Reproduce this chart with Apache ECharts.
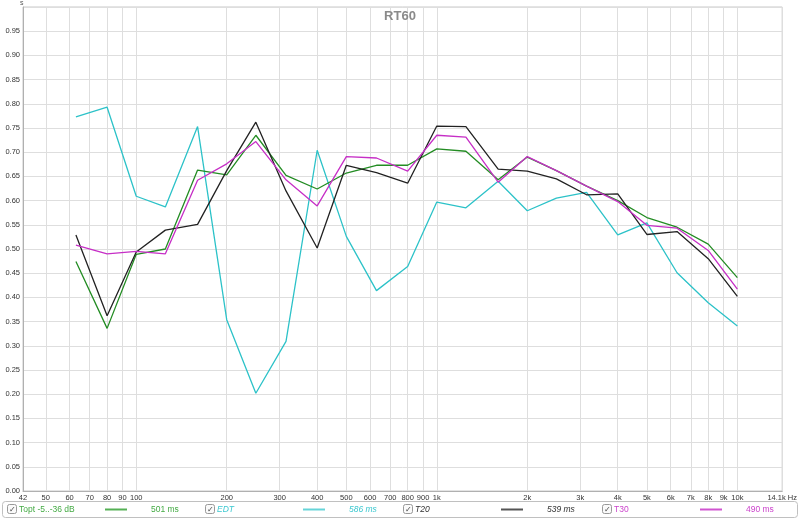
<!DOCTYPE html>
<html><head><meta charset="utf-8">
<script src="https://cdn.jsdelivr.net/npm/echarts@6/dist/echarts.min.js"></script>
<style>html,body{margin:0;padding:0;background:#fff}#c{width:800px;height:519px}</style>
</head><body><div id="c"></div>
<script>
const freqs = [63,80,100,125,160,200,250,315,400,500,630,800,1000,1250,1600,2000,2500,3150,4000,5000,6300,8000,10000];
const topt = [0.474,0.336,0.489,0.500,0.663,0.653,0.735,0.652,0.624,0.657,0.673,0.673,0.707,0.702,0.643,0.690,0.662,0.630,0.600,0.565,0.545,0.510,0.441];
const edt  = [0.773,0.793,0.609,0.587,0.753,0.354,0.202,0.309,0.704,0.526,0.414,0.464,0.597,0.585,0.640,0.579,0.605,0.617,0.529,0.554,0.451,0.389,0.341];
const t20  = [0.529,0.362,0.494,0.539,0.551,0.662,0.762,0.620,0.502,0.673,0.658,0.636,0.754,0.753,0.665,0.661,0.645,0.612,0.614,0.530,0.536,0.480,0.402];
const t30  = [0.508,0.490,0.495,0.490,0.642,0.676,0.722,0.643,0.589,0.691,0.688,0.661,0.735,0.731,0.638,0.691,0.662,0.630,0.598,0.549,0.543,0.497,0.417];
const xTicks = [42,50,60,70,80,90,100,200,300,400,500,600,700,800,900,1000,2000,3000,4000,5000,6000,7000,8000,9000,10000,14100];
const xTickLabels = ['42','50','60','70','80','90','100','200','300','400','500','600','700','800','900','1k','2k','3k','4k','5k','6k','7k','8k','9k','10k','14.1k Hz'];
const legendNames = ['Topt -5..-36 dB','EDT','T20','T30'];
const legendValues = ['501 ms','586 ms','539 ms','490 ms'];

const lineColors = ['#238c23','#2cc2c8','#222222','#c62ec6'];
const legendTextColors = ['#44aa44','#3cc8d0','#333333','#cc44cc'];
const legendLineColors = ['#55b055','#66d4d8','#555555','#d055d0'];
const italics = [false,true,true,false];
const seriesData = [topt, edt, t20, t30];

const chart = echarts.init(document.getElementById('c'), null, {renderer:'canvas'});
const FONT = 'Liberation Sans';

const graphic = [];
graphic.push({type:'rect', shape:{x:2.5,y:501.5,width:795,height:16,r:3}, style:{fill:'#fff',stroke:'#c0c0c0',lineWidth:1}, silent:true});
const itemX = [7,205,403,602];
for (let i=0;i<4;i++){
  const x0 = itemX[i];
  graphic.push({type:'rect', shape:{x:x0+0.5,y:504.5,width:9,height:9,r:2}, style:{fill:'#fafafa',stroke:'#999',lineWidth:1}});
  graphic.push({type:'text', x:x0+2, y:509.5, style:{text:'\u2713', fill:'#444', font:'8px DejaVu Sans', verticalAlign:'middle'}});
  graphic.push({type:'text', x:x0+12, y:509.5, style:{text:legendNames[i], fill:legendTextColors[i], font:(italics[i]?'italic ':'')+'8.5px '+FONT, verticalAlign:'middle'}});
  graphic.push({type:'line', shape:{x1:x0+98,y1:509.5,x2:x0+120,y2:509.5}, style:{stroke:legendLineColors[i],lineWidth:2}});
  graphic.push({type:'text', x:x0+144, y:509.5, style:{text:legendValues[i], fill:legendTextColors[i], font:(i===1||i===2?'italic ':'')+'8.5px '+FONT, verticalAlign:'middle'}});
}
graphic.push({type:'text', x:20, y:0, style:{text:'s', fill:'#555', font:'7px '+FONT}});

const option = {
  animation:false,
  backgroundColor:'#fff',
  title:{text:'RT60', left:'center', top:5, textStyle:{color:'#8a8a8a', fontSize:13, fontWeight:'bold', fontFamily:FONT}},
  grid:{left:23, right:12, top:7, bottom:28, show:true, borderColor:'#c8c8c8', borderWidth:1},
  xAxis:{type:'log', min:42, max:14100, logBase:10,
    axisLine:{show:true, lineStyle:{color:'#b0b0b0'}},
    axisTick:{show:false, customValues:xTicks},
    axisLabel:{customValues:xTicks, fontSize:7.5, color:'#333', margin:3, fontFamily:FONT,
      formatter:(v)=>{ let best=0; for(let i=0;i<xTicks.length;i++){ if(Math.abs(Math.log(xTicks[i]/v))<Math.abs(Math.log(xTicks[best]/v))) best=i;} return xTickLabels[best]; }},
    splitLine:{show:true, lineStyle:{color:'#dedede', width:1}},
    minorSplitLine:{show:false}
  },
  yAxis:{type:'value', min:0, max:1, interval:0.05,
    axisLine:{show:true, lineStyle:{color:'#b0b0b0'}},
    axisTick:{show:false},
    axisLabel:{fontSize:7.5, color:'#333', margin:3, fontFamily:FONT, formatter:(v)=> v>0.999 ? '' : v.toFixed(2)},
    splitLine:{show:true, lineStyle:{color:'#dedede', width:1}}
  },
  series: seriesData.map((arr,i)=>({
    type:'line', name:legendNames[i], data: freqs.map((f,j)=>[f,arr[j]]),
    showSymbol:false, symbol:'none', lineStyle:{color:lineColors[i], width:1.3}, z: [3,2,4,5][i]
  })),
  graphic: graphic
};
chart.setOption(option);
</script></body></html>
